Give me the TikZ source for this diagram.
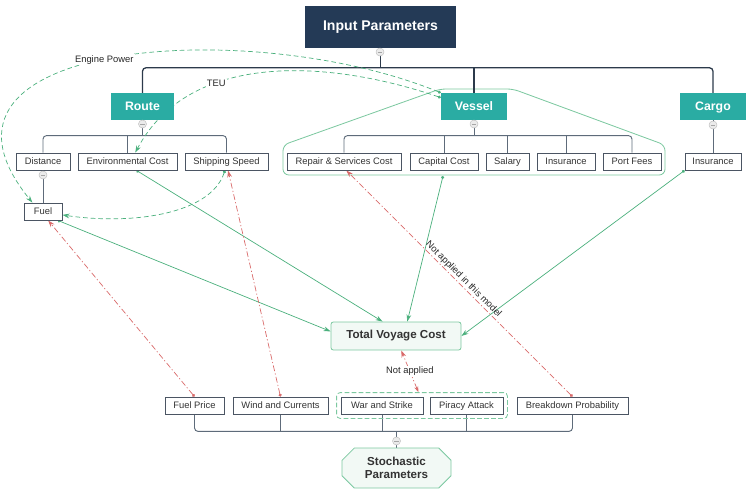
\documentclass[tikz,border=0pt]{standalone}
\usepackage{fontspec}
\setmainfont{Liberation Sans}
\usetikzlibrary{arrows.meta,shapes.misc,fit,backgrounds}

\newlength{\pxu}
\setlength{\pxu}{0.03cm}

\definecolor{navy}{HTML}{243A56}
\definecolor{routeteal}{HTML}{2AACA3}
\definecolor{boxline}{HTML}{4B5563}
\definecolor{textgray}{HTML}{333333}
\definecolor{busdark}{HTML}{2C3A4B}
\definecolor{busgray}{HTML}{5E6B7A}
\definecolor{hullgreen}{HTML}{7CC8A0}
\definecolor{palegreen}{HTML}{F2F9F5}
\definecolor{flowgreen}{HTML}{4BB07D}
\definecolor{vetored}{HTML}{D96A6A}

\tikzset{
  leaf/.style={draw=boxline,fill=white,line width=0.7pt,minimum height=17\pxu,
    inner sep=1pt,text height=6.2pt,text depth=1.8pt,text=textgray,
    font=\fontsize{8}{9.5}\selectfont},
  group/.style={fill=routeteal,text=white,minimum width=66\pxu,minimum height=27\pxu,
    text height=7.6pt,text depth=0.4pt,font=\fontsize{10.5}{12}\selectfont\bfseries},
  root/.style={fill=navy,text=white,minimum width=151\pxu,minimum height=42\pxu,
    font=\fontsize{12}{14}\selectfont\bfseries},
  total/.style={draw=hullgreen,fill=palegreen,line width=0.7pt,rounded corners=2pt,
    minimum width=130\pxu,minimum height=28\pxu,text=textgray,
    font=\fontsize{9.9}{12}\selectfont\bfseries},
  stoch/.style={chamfered rectangle,chamfered rectangle xsep=7pt,draw=hullgreen,
    fill=palegreen,line width=0.7pt,minimum width=109\pxu,minimum height=40\pxu,
    inner sep=1pt,align=center,text=textgray,font=\fontsize{9.9}{11.5}\selectfont\bfseries},
  knob/.style={circle,draw=black!25,fill=black!8,line width=0.4pt,inner sep=0pt,
    minimum size=8\pxu,
    path picture={\draw[black!35,line width=0.4pt]
      ([xshift=-1.8pt]path picture bounding box.center) --
      ([xshift=1.8pt]path picture bounding box.center);}},
  bus/.style={draw=busdark,line width=1.1pt,rounded corners=3pt},
  subbus/.style={draw=busgray,line width=0.8pt,rounded corners=3pt},
  hull/.style={draw=hullgreen,line width=0.7pt,rounded corners=5pt},
  threatbox/.style={draw=hullgreen,line width=0.7pt,dash pattern=on 4pt off 2pt,
    rounded corners=3pt,inner sep=4\pxu},
  flow/.style={draw=flowgreen,line width=0.6pt,
    {Circle[length=2.6pt]}-{Stealth[length=6pt,width=4pt]}},
  hint/.style={flow,dash pattern=on 4pt off 2.5pt},
  veto/.style={draw=vetored,line width=0.6pt,dash pattern=on 5pt off 2pt on 1pt off 2pt,
    {Circle[length=2.6pt]}-{Stealth[length=6pt,width=4pt]}},
  tag/.style={fill=white,inner sep=1pt,text=black!85,font=\fontsize{8}{9.5}\selectfont}
}

\begin{document}
\begin{tikzpicture}[x=0.03cm,y=-0.03cm]
  \useasboundingbox (0,0) rectangle (750,494);

  %% top level
  \node[root] (input) at (380.5,27) {Input Parameters};
  \node[group,minimum width=63\pxu] (route) at (142.5,106.5) {Route};
  \node[group] (vessel) at (474,106.5) {Vessel};
  \node[group] (cargo) at (713,106.5) {Cargo};

  %% route
  \node[leaf,minimum width=54\pxu] (dist) at (43,161.5) {Distance};
  \node[leaf,minimum width=99\pxu] (env) at (127.5,161.5) {Environmental Cost};
  \node[leaf,minimum width=83\pxu] (speed) at (226.5,161.5) {Shipping Speed};
  \node[leaf,minimum width=38\pxu] (fuel) at (43,211.5) {Fuel};

  %% vessel
  \node[leaf,minimum width=114\pxu] (repair) at (344,161.5) {Repair \& Services Cost};
  \node[leaf,minimum width=68\pxu] (capital) at (444,161.5) {Capital Cost};
  \node[leaf,minimum width=43\pxu] (salary) at (507.5,161.5) {Salary};
  \node[leaf,minimum width=58\pxu] (vins) at (566,161.5) {Insurance};
  \node[leaf,minimum width=58\pxu] (port) at (632,161.5) {Port Fees};
  \coordinate (capbase) at (443,176);

  %% cargo
  \node[leaf,minimum width=56\pxu] (cins) at (713,161.5) {Insurance};

  %% result
  \node[total] (total) at (396,336) {Total Voyage Cost};

  %% stochastic
  \node[leaf,minimum width=59\pxu] (fprice) at (194.5,405.5) {Fuel Price};
  \node[leaf,minimum width=95\pxu] (wind) at (280.5,405.5) {Wind and Currents};
  \node[leaf,minimum width=82\pxu] (war) at (382,405.5) {War and Strike};
  \node[leaf,minimum width=73\pxu] (piracy) at (466.5,405.5) {Piracy Attack};
  \node[leaf,minimum width=111\pxu] (brk) at (572.5,405.5) {Breakdown Probability};
  \node[threatbox,fit=(war)(piracy)] (threat) {};
  \node[stoch] (stoch) at (396.5,468) {Stochastic\\Parameters};

  %% collapse knobs
  \node[knob] (knobinput) at (380,52) {};
  \node[knob] (knobroute) at (142.5,124) {};
  \node[knob] (knobvessel) at (474,124) {};
  \node[knob] (knobcargo) at (713,125) {};
  \node[knob] (knobdist) at (43,175) {};
  \node[knob] (knobstoch) at (396.5,441) {};

  \begin{scope}[on background layer]
    %% vessel group hull
    \draw[hull] (283,175) -- (283,145) -- (440,89) -- (513,89) -- (665,145)
      -- (665,175) -- cycle;

    %% tree lines
    \draw[bus] (input.south) -- ++(0,20);
    \draw[bus] (route.north) -- ++(0,-25) -| (cargo.north);
    \draw[bus] (vessel.north) -- ++(0,-25);
    \draw[subbus] (route.south) -- ++(0,16);
    \draw[subbus] (dist.north) -- ++(0,-17) -| (speed.north);
    \draw[subbus] (env.north) -- ++(0,-17);
    \draw[subbus] (dist.south) -- (fuel.north);
    \draw[subbus] (vessel.south) -- ++(0,16);
    \draw[subbus] (repair.north) -- ++(0,-17) -| (port.north);
    \foreach \n in {capital,salary,vins}
      \draw[subbus] (\n.north) -- ++(0,-17);
    \draw[subbus] (cargo.south) -- (cins.north);
    \draw[subbus] (fprice.south) -- ++(0,17) -| (brk.south);
    \foreach \n in {wind,war,piracy}
      \draw[subbus] (\n.south) -- ++(0,17);
    \draw[subbus] (stoch.north) -- ++(0,-17);

    %% cost flows
    \draw[flow] (env.-45) -- (total.133);
    \draw[flow] (fuel.-31) -- (total.176);
    \draw[flow] (capbase) -- (total.52);
    \draw[flow] (cins.south west) -- (total.east);

    %% not applied
    \draw[veto] (fprice.north) -- (fuel.-60);
    \draw[veto] (wind.north) -- (speed.-80);
    \draw[veto] (brk.north) -- node[tag,fill=none,sloped,above]
      {Not applied in this model} (repair.-76);
    \draw[veto,{Stealth[length=5pt,width=3.5pt]}-{Stealth[length=6pt,width=4pt]}]
      (threat.105) -- node[tag]{Not applied} (total.-70);

    %% dependencies
    \draw[hint] (vessel.north west) .. controls (250,15) and (-100,40) ..
      node[tag,pos=0.52]{Engine Power} (fuel.140);
    \draw[hint] (vessel.165) .. controls (330,60) and (190,50) ..
      node[tag,pos=0.66]{TEU} (env.49);
    \draw[hint] (speed.-100) .. controls (210,215) and (130,225) .. (fuel.-10);
  \end{scope}
\end{tikzpicture}
\end{document}
